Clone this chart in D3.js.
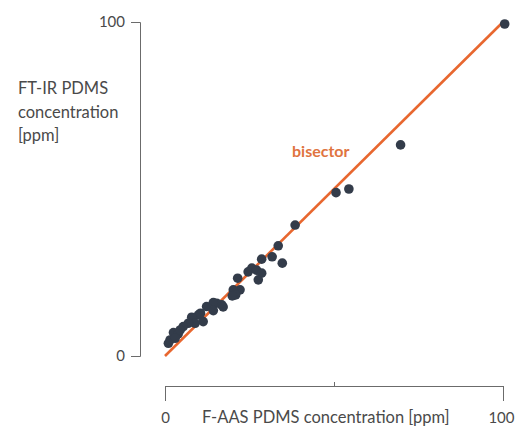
<!DOCTYPE html>
<html>
<head>
<meta charset="utf-8">
<script src="https://cdn.jsdelivr.net/npm/d3@7"></script>
<style>
  body { margin: 0; background: #fff; }
  svg text { font-family: Lato, "Open Sans", sans-serif; fill: #4a4a4a; }
</style>
</head>
<body>
<svg id="chart" width="515" height="429"></svg>
<script>

// F-AAS (x) vs FT-IR (y) PDMS concentration, ppm
const faas = [100.5, 69.7, 50.6, 54.4, 38.5, 33.5, 31.7, 28.6, 34.7, 25.7, 24.6, 27.1, 28.6, 27.6,
              21.5, 22.2, 20.2, 20.9, 16.8, 15.3, 19.9, 14.3, 12.3, 14.3, 9.9, 7.9, 11.3, 8.9,
              6.9, 5.4, 2.5, 3.9, 1.5, 3.0, 1.0, 17.2, 10.5, 4.5];
const ftir = [99.4, 63.2, 48.9, 50.0, 39.2, 33.0, 29.7, 29.0, 27.8, 26.3, 25.2, 25.7, 24.8, 22.8,
              23.3, 19.8, 19.8, 18.3, 15.3, 15.8, 18.0, 16.0, 14.8, 13.6, 12.3, 11.6, 10.3, 9.8,
              9.8, 8.8, 7.0, 6.6, 4.8, 5.3, 3.8, 14.7, 12.8, 7.8];
const bisector = [0, 100];
const xTicks = [0, 50, 100];
const yTicks = [0, 100];
const xTitle = "F-AAS PDMS concentration [ppm]";
const yTitle = ["FT-IR PDMS", "concentration", "[ppm]"];

const svg = d3.select("#chart");

const x = d3.scaleLinear().domain([0, 100]).range([165, 503]);
const y = d3.scaleLinear().domain([0, 100]).range([356, 22]);

// y axis (bracket style, ticks only at the ends)
const yAxis = svg.append("g")
    .attr("transform", "translate(140,0)")
    .call(d3.axisLeft(y).tickValues(yTicks).tickSize(9).tickSizeOuter(9).tickPadding(6));
yAxis.select(".domain").attr("stroke", "#6b6b6b");
yAxis.selectAll(".tick line").attr("stroke", "#6b6b6b");
yAxis.selectAll(".tick text").style("font-size", "15px");

// x axis sits below the plot, ends bent downwards, small middle tick up
const xAxis = svg.append("g")
    .attr("transform", "translate(0,386)")
    .call(d3.axisBottom(x).tickValues(xTicks).tickSize(15).tickSizeOuter(15).tickPadding(11));
xAxis.select(".domain").attr("stroke", "#6b6b6b");
xAxis.selectAll(".tick line").attr("stroke", "#6b6b6b");
xAxis.selectAll(".tick text").style("font-size", "15px");
const mid = xAxis.selectAll(".tick").filter(d => d === 50);
mid.select("line").attr("y1", 0).attr("y2", -4);
mid.select("text").remove();
xAxis.selectAll(".tick").filter(d => d === 100).select("text")
    .attr("text-anchor", "end").attr("x", 11);

svg.append("text")
    .attr("x", 202)
    .attr("y", 423)
    .style("font-size", "16.5px")
    .text(xTitle);

svg.append("text")
    .attr("x", 18)
    .attr("y", 94)
    .style("font-size", "16.5px")
    .selectAll("tspan")
    .data(yTitle)
    .join("tspan")
    .attr("x", 18)
    .attr("dy", (d, i) => i === 0 ? 0 : 23.5)
    .text(d => d);

// bisector y = x
svg.append("line")
    .attr("x1", x(bisector[0])).attr("y1", y(bisector[0]))
    .attr("x2", x(bisector[1])).attr("y2", y(bisector[1]))
    .attr("stroke", "#e8672f")
    .attr("stroke-width", 2.6);

svg.append("text")
    .attr("x", 292)
    .attr("y", 157)
    .style("font-size", "16px")
    .style("font-weight", "bold")
    .style("fill", "#e0743f")
    .text("bisector");

// points
svg.append("g")
    .selectAll("circle")
    .data(faas.map((v, i) => [v, ftir[i]]))
    .join("circle")
    .attr("cx", d => x(d[0]))
    .attr("cy", d => y(d[1]))
    .attr("r", 4.8)
    .attr("fill", "#333c4a");

</script>
</body>
</html>
